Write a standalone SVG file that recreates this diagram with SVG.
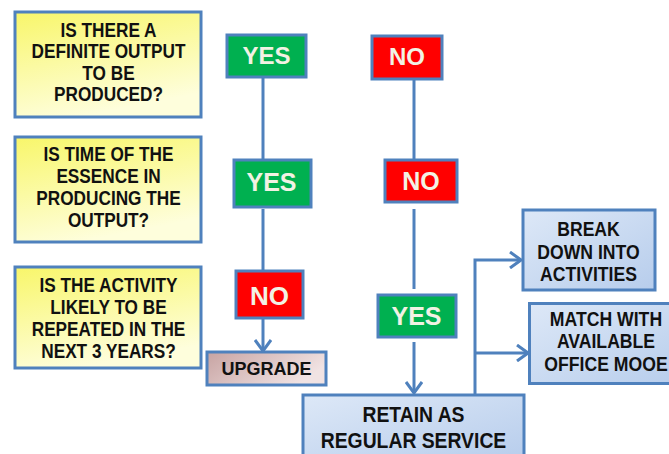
<svg xmlns="http://www.w3.org/2000/svg" width="669" height="454" viewBox="0 0 669 454">
  <defs>
    <linearGradient id="gYellow" x1="0" y1="0" x2="0.35" y2="1">
      <stop offset="0" stop-color="#f8f66a"/>
      <stop offset="1" stop-color="#fefedc"/>
    </linearGradient>
    <linearGradient id="gBlue" x1="0" y1="0" x2="1" y2="1">
      <stop offset="0" stop-color="#dde8f7"/>
      <stop offset="1" stop-color="#b7cdec"/>
    </linearGradient>
    <linearGradient id="gRose" x1="0" y1="0" x2="1" y2="0.4">
      <stop offset="0" stop-color="#c7a3a2"/>
      <stop offset="1" stop-color="#f1e3e3"/>
    </linearGradient>
    <marker id="chev" viewBox="0 0 14 18" refX="12" refY="9" markerWidth="14" markerHeight="18" markerUnits="userSpaceOnUse" orient="auto">
      <polyline points="1,1 12,9 1,17" fill="none" stroke="#4f81bd" stroke-width="3"/>
    </marker>
  </defs>
  <style>
    .box { stroke: #4f81bd; stroke-width: 3; }
    .q { fill: url(#gYellow); }
    .blue { fill: url(#gBlue); }
    .yes { fill: #00b050; }
    .no { fill: #ff0000; }
    .dark { font-family: "Liberation Sans", Arial, sans-serif; font-weight: bold; fill: #111111; text-anchor: middle; }
    .light { font-family: "Liberation Sans", Arial, sans-serif; font-weight: bold; fill: #f2f2e4; text-anchor: middle; }
    .link { fill: none; stroke: #4f81bd; stroke-width: 3; }
  </style>

  <rect width="669" height="454" fill="#ffffff"/>

  <!-- connectors -->
  <g id="connectors">
    <line class="link" x1="263" y1="77" x2="263" y2="160"/>
    <line class="link" x1="263" y1="209" x2="263" y2="271"/>
    <line class="link" x1="263" y1="318" x2="263" y2="351" marker-end="url(#chev)"/>
    <line class="link" x1="414" y1="79" x2="414" y2="160"/>
    <line class="link" x1="414" y1="209" x2="414" y2="289"/>
    <line class="link" x1="414" y1="342" x2="414" y2="393" marker-end="url(#chev)"/>
    <polyline class="link" points="475,395 475,260 521,260" marker-end="url(#chev)"/>
    <line class="link" x1="475" y1="353" x2="528" y2="353" marker-end="url(#chev)"/>
  </g>

  <!-- question column -->
  <g id="q1">
    <rect class="box q" x="15" y="12" width="186" height="105"/>
    <g transform="translate(108.5,0) scale(0.82,1)" class="dark" font-size="21">
      <text x="0" y="37">IS THERE A</text>
      <text x="0" y="58.5">DEFINITE OUTPUT</text>
      <text x="0" y="80">TO BE</text>
      <text x="0" y="101.5">PRODUCED?</text>
    </g>
  </g>
  <g id="q2">
    <rect class="box q" x="15" y="137" width="186" height="105"/>
    <g transform="translate(108.5,0) scale(0.82,1)" class="dark" font-size="21">
      <text x="0" y="161.5">IS TIME OF THE</text>
      <text x="0" y="183.5">ESSENCE IN</text>
      <text x="0" y="205.5">PRODUCING THE</text>
      <text x="0" y="227">OUTPUT?</text>
    </g>
  </g>
  <g id="q3">
    <rect class="box q" x="15" y="267" width="186" height="101"/>
    <g transform="translate(108.5,0) scale(0.82,1)" class="dark" font-size="21">
      <text x="0" y="292.5">IS THE ACTIVITY</text>
      <text x="0" y="314.5">LIKELY TO BE</text>
      <text x="0" y="336.5">REPEATED IN THE</text>
      <text x="0" y="358">NEXT 3 YEARS?</text>
    </g>
  </g>

  <!-- answers -->
  <g id="yes1">
    <rect class="box yes" x="227" y="35" width="79" height="42"/>
    <text class="light" x="266.5" y="63.5" font-size="24">YES</text>
  </g>
  <g id="no1">
    <rect class="box no" x="372" y="36" width="70" height="43"/>
    <text class="light" x="407" y="65" font-size="24">NO</text>
  </g>
  <g id="yes2">
    <rect class="box yes" x="234" y="160" width="77" height="47"/>
    <text class="light" x="271.5" y="191" font-size="25">YES</text>
  </g>
  <g id="no2">
    <rect class="box no" x="385" y="160" width="72" height="42"/>
    <text class="light" x="421" y="190" font-size="25">NO</text>
  </g>
  <g id="no3">
    <rect class="box no" x="236" y="271" width="67" height="47"/>
    <text class="light" x="269.5" y="304.5" font-size="26">NO</text>
  </g>
  <g id="yes3">
    <rect class="box yes" x="378" y="295" width="78" height="42"/>
    <text class="light" x="416.5" y="325" font-size="25">YES</text>
  </g>

  <!-- outcomes -->
  <g id="upgrade">
    <rect class="box" fill="url(#gRose)" x="207" y="352" width="119" height="33"/>
    <text class="dark" x="266.5" y="374.5" font-size="18">UPGRADE</text>
  </g>
  <g id="retain">
    <rect class="box blue" x="303" y="395" width="221" height="66"/>
    <g transform="translate(413.5,0) scale(0.9,1)" class="dark" font-size="21.5">
      <text x="0" y="422">RETAIN AS</text>
      <text x="0" y="448">REGULAR SERVICE</text>
    </g>
  </g>
  <g id="breakdown">
    <rect class="box blue" x="523" y="210" width="132" height="80"/>
    <g transform="translate(588.5,0) scale(0.88,1)" class="dark" font-size="20">
      <text x="0" y="236">BREAK</text>
      <text x="0" y="259">DOWN INTO</text>
      <text x="0" y="281">ACTIVITIES</text>
    </g>
  </g>
  <g id="match">
    <rect class="box blue" x="529.5" y="303.5" width="155" height="80"/>
    <g transform="translate(606,0) scale(0.84,1)" class="dark" font-size="21">
      <text x="0" y="326">MATCH WITH</text>
      <text x="0" y="348.5">AVAILABLE</text>
      <text x="0" y="371">OFFICE MOOE</text>
    </g>
  </g>
</svg>
